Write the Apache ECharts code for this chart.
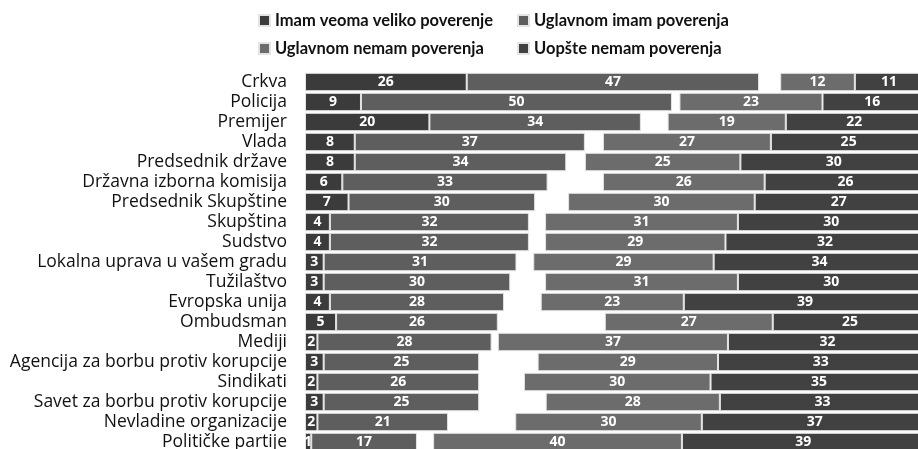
<!DOCTYPE html>
<html>
<head>
<meta charset="utf-8">
<script src="https://cdn.jsdelivr.net/npm/echarts@6/dist/echarts.min.js"></script>
<style>
  html, body { margin: 0; padding: 0; background: #fff; }
  #chart { width: 918px; height: 449px; }
</style>
</head>
<body>
<div id="chart"></div>
<script>
var categories = ['Crkva', 'Policija', 'Premijer', 'Vlada', 'Predsednik države', 'Državna izborna komisija',
    'Predsednik Skupštine', 'Skupština', 'Sudstvo', 'Lokalna uprava u vašem gradu', 'Tužilaštvo',
    'Evropska unija', 'Ombudsman', 'Mediji', 'Agencija za borbu protiv korupcije', 'Sindikati',
    'Savet za borbu protiv korupcije', 'Nevladine organizacije', 'Političke partije'];

var veomaVeliko = [26, 9, 20, 8, 8, 6, 7, 4, 4, 3, 3, 4, 5, 2, 3, 2, 3, 2, 1];
var uglavnomImam = [47, 50, 34, 37, 34, 33, 30, 32, 32, 31, 30, 28, 26, 28, 25, 26, 25, 21, 17];
// share without an answer, shown as the blank space in each row
var neZna = [3.4, 1.2, 4.3, 2.9, 3, 8.9, 5.3, 2.6, 2.6, 2.7, 5.6, 5.9, 17.2, 1, 9.4, 7.2, 10.7, 10.8, 2.6];
var uglavnomNemam = [12, 23, 19, 27, 25, 26, 30, 31, 29, 29, 31, 23, 27, 37, 29, 30, 28, 30, 40];
var uopsteNemam = [11, 16, 22, 25, 30, 26, 27, 30, 32, 34, 30, 39, 25, 32, 33, 35, 33, 37, 39];

var seriesNames = ['Imam veoma veliko poverenje', 'Uglavnom imam poverenja', 'Uglavnom nemam poverenja', 'Uopšte nemam poverenja'];
var colors = ['#3b3b3b', '#5e5e5e', '#6c6c6c', '#414141'];

(function () {
    var myChart = echarts.init(document.getElementById('chart'));

    function barSeries(name, data, color) {
        return {
            name: name,
            type: 'bar',
            stack: 'all',
            barCategoryGap: '8%',
            data: data,
            itemStyle: { color: color, borderColor: '#e4e4e4', borderWidth: 1 },
            label: {
                show: true,
                position: 'inside',
                color: '#fff',
                fontFamily: 'Open Sans',
                fontWeight: 'bold',
                fontSize: 14
            }
        };
    }

    var legendText = { fontFamily: 'Lato', fontWeight: 'bold', fontSize: 16.5, color: '#111' };

    var option = {
        animation: false,
        legend: [
            {
                orient: 'vertical',
                left: 258,
                top: 12,
                padding: 0,
                itemWidth: 11,
                itemHeight: 11,
                itemGap: 11,
                icon: 'rect',
                textStyle: legendText,
                data: [seriesNames[0], seriesNames[2]]
            },
            {
                orient: 'vertical',
                left: 517,
                top: 12,
                padding: 0,
                itemWidth: 11,
                itemHeight: 11,
                itemGap: 11,
                icon: 'rect',
                textStyle: legendText,
                data: [seriesNames[1], seriesNames[3]]
            }
        ],
        grid: {
            left: 305,
            top: 72,
            width: 622,
            height: 380,
            outerBoundsMode: 'none',
            containLabel: false
        },
        xAxis: {
            type: 'value',
            min: 0,
            max: 100,
            show: false
        },
        yAxis: {
            type: 'category',
            inverse: true,
            data: categories,
            axisLine: { show: false },
            axisTick: { show: false },
            axisLabel: {
                interval: 0,
                margin: 18,
                fontFamily: 'Open Sans',
                fontSize: 17.5,
                color: '#111'
            }
        },
        series: [
            barSeries(seriesNames[0], veomaVeliko, colors[0]),
            barSeries(seriesNames[1], uglavnomImam, colors[1]),
            {
                name: 'Ne zna',
                type: 'bar',
                stack: 'all',
                data: neZna,
                itemStyle: { color: 'transparent' },
                label: { show: false },
                silent: true
            },
            barSeries(seriesNames[2], uglavnomNemam, colors[2]),
            barSeries(seriesNames[3], uopsteNemam, colors[3])
        ]
    };

    myChart.setOption(option);
    window.addEventListener('resize', function () {
        myChart.resize();
    });
})();
</script>
</body>
</html>
